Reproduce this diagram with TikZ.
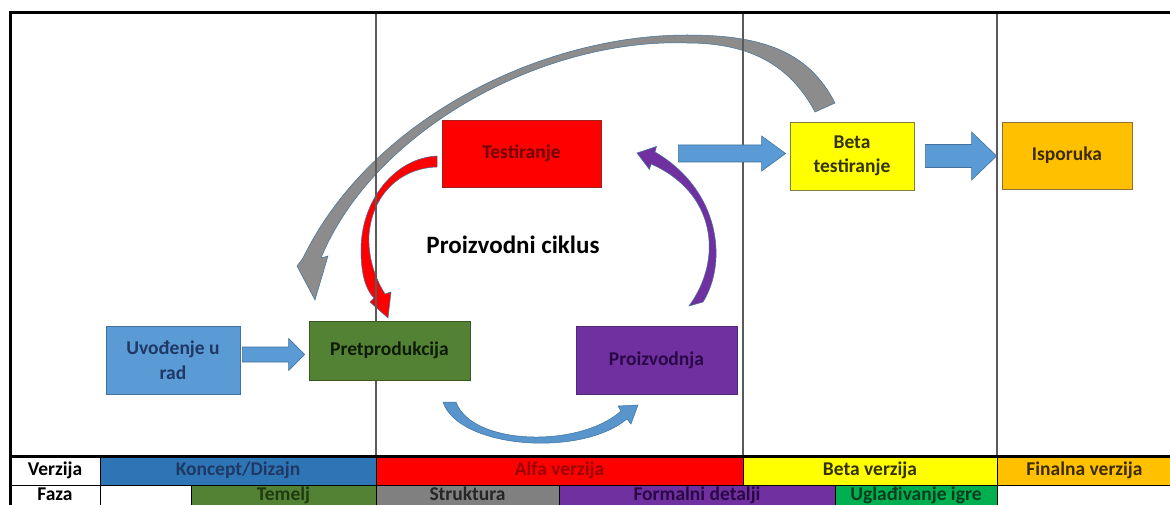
\documentclass[tikz,border=0pt]{standalone}
\usepackage{fontspec}
\setmainfont{Carlito}
\usetikzlibrary{calc}
\definecolor{cUv}{HTML}{5B9BD5}
\definecolor{cUvB}{HTML}{41719C}
\definecolor{cUvT}{HTML}{1F3864}
\definecolor{cPre}{HTML}{548235}
\definecolor{cPreB}{HTML}{385723}
\definecolor{cPreT}{HTML}{0D1A06}
\definecolor{cTest}{HTML}{FF0000}
\definecolor{cTestB}{HTML}{A02020}
\definecolor{cTestT}{HTML}{6E0000}
\definecolor{cPro}{HTML}{7030A0}
\definecolor{cProB}{HTML}{4E2A78}
\definecolor{cProT}{HTML}{2A0845}
\definecolor{cBeta}{HTML}{FFFF00}
\definecolor{cBetaB}{HTML}{7F7F40}
\definecolor{cBetaT}{HTML}{333300}
\definecolor{cIso}{HTML}{FFC000}
\definecolor{cIsoB}{HTML}{8F7030}
\definecolor{cIsoT}{HTML}{3D2B00}
\definecolor{cKon}{HTML}{2E75B6}
\definecolor{cAlfT}{HTML}{9A0000}
\definecolor{cStr}{HTML}{808080}
\definecolor{cUgl}{HTML}{00B050}
\definecolor{cUglT}{HTML}{0A3D1E}
\definecolor{cTemT}{HTML}{1E3A10}
\definecolor{cGrey}{HTML}{8C8C8C}
\definecolor{cLine}{HTML}{5A5A5A}
\definecolor{cArrB}{HTML}{41719C}
\newcommand\blkarrow[5]{%
  \filldraw[blk] let \p1=(#1), \p2=(#2) in
    (\x1,\y1+#3) -- (\x2-#5,\y1+#3) -- (\x2-#5,\y1+#4) -- (\x2,\y1)
    -- (\x2-#5,\y1-#4) -- (\x2-#5,\y1-#3) -- (\x1,\y1-#3) -- cycle;}
\newcommand\tcell[8]{%
  \draw[cellb, fill=#6] (#2,#3) rectangle (#4,#5);
  \node[tlbl, text=#7] (#1) at ($(#2,#3)!0.5!(#4,#5)$) {#8};}
\begin{document}
\begin{tikzpicture}[x=1pt,y=-1pt,
  lbl/.style={font=\fontsize{19.5}{24.5}\selectfont\bfseries, align=center, inner sep=0pt},
  box/.style={lbl, line width=0.8pt},
  blk/.style={fill=cUv, draw=cArrB, line width=0.6pt},
  curv/.style={draw=cArrB, line width=0.5pt},
  cellb/.style={draw=black, line width=0.6pt},
  tlbl/.style={font=\fontsize{19.5}{21}\selectfont\bfseries, inner sep=0pt, text height=12.5pt, text depth=3.5pt},
  vline/.style={draw=cLine, line width=1.3pt},
  frame/.style={draw=black, line width=3pt}]
\useasboundingbox (0,0) rectangle (1170,505);
\fill[white] (0,0) rectangle (1170,505);

% curved arrows
\filldraw[curv, fill=cGrey] (835,103) .. controls (808,50) and (760,35) .. (687,35)
  .. controls (540,35) and (370,120) .. (303,258) -- (297,266) -- (315,300) -- (328,256) -- (321,258)
  .. controls (375,128) and (545,38) .. (687,43)
  .. controls (750,43) and (790,65) .. (815,112) -- cycle;
\filldraw[curv, fill=red]
  (437,156) .. controls (395,158) and (361,200) .. (361,250)
  .. controls (361,275) and (366,290) .. (374,298) -- (370,302) -- (388,318) -- (391,292) -- (385,294)
  .. controls (375,278) and (368,258) .. (369,235)
  .. controls (372,195) and (400,168) .. (437,167) -- cycle;
\filldraw[curv, fill=cPro] (703,302) .. controls (728,262) and (720,190) .. (655,152)
  -- (656.5,146.5) -- (637,153) -- (649.5,169.5) -- (651,164)
  .. controls (715,192) and (724,258) .. (689,306) -- cycle;
\filldraw[curv, fill=cUv!85!cUvB] (443,402) .. controls (458,448) and (580,458) .. (627,419)
  -- (631,424) -- (638,405) -- (618,406) -- (621,411)
  .. controls (580,448) and (472,446) .. (456,402) -- cycle;

% frame and column lines
\draw[vline] (376,13) -- (376,456);
\draw[vline] (743,13) -- (743,456);
\draw[vline] (997,13) -- (997,456);
\draw[frame] (8.5,13) -- (1172,13);
\draw[frame] (10,13) -- (10,507);

% boxes
\node[box, fill=cUv, draw=cUvB, text=cUvT, minimum width=134pt, minimum height=68pt] (uv) at (173,360) {Uvođenje u\\rad};
\node[box, fill=cPre, draw=cPreB, text=cPreT, minimum width=161pt, minimum height=59pt] (pre) at (389.5,350.5) {Pretprodukcija};
\node[box, fill=cTest, draw=cTestB, text=cTestT, minimum width=159pt, minimum height=67pt] (test) at (521.5,153.5) {Testiranje};
\node[box, fill=cPro, draw=cProB, text=cProT, minimum width=161pt, minimum height=68pt] (pro) at (656.5,360) {Proizvodnja};
\node[box, fill=cBeta, draw=cBetaB, text=cBetaT, minimum width=124pt, minimum height=68pt] (beta) at (852,156) {Beta\\testiranje};
\node[box, fill=cIso, draw=cIsoB, text=cIsoT, minimum width=130pt, minimum height=67pt] (iso) at (1067,155.5) {Isporuka};
\node[font=\fontsize{25}{29}\selectfont\bfseries, inner sep=0pt] (title) at (513,245) {Proizvodni ciklus};

% straight block arrows
\coordinate (a1s) at ($(uv.east)+(2,-5.5)$);
\coordinate (a1e) at ($(pre.west)+(-4,0)$);
\blkarrow{a1s}{a1e}{7.5pt}{16pt}{16pt}
\coordinate (a2s) at ($(test.east)+(77,0)$);
\coordinate (a2e) at ($(beta.west)+(-4,0)$);
\blkarrow{a2s}{a2e}{8.5pt}{17.5pt}{24pt}
\coordinate (a3s) at ($(beta.east)+(11,0)$);
\coordinate (a3e) at ($(iso.west)+(-5,0)$);
\blkarrow{a3s}{a3e}{11.5pt}{24pt}{25pt}

% table
\tcell{ver}{10}{457}{100}{485}{white}{black}{Verzija}
\tcell{kon}{100}{457}{376}{485}{cKon}{cUvT}{Koncept/Dizajn}
\tcell{alf}{376}{457}{743}{485}{red}{cAlfT}{Alfa verzija}
\tcell{bet}{743}{457}{997}{485}{cBeta}{cBetaT}{Beta verzija}
\tcell{fin}{997}{457}{1172}{485}{cIso}{cIsoT}{Finalna verzija}
\tcell{faz}{10}{485}{100}{507}{white}{black}{Faza}
\tcell{bl1}{100}{485}{191}{507}{white}{black}{}
\tcell{tem}{191}{485}{376}{507}{cPre}{cTemT}{Temelj}
\tcell{str}{376}{485}{559}{507}{cStr}{black!85}{Struktura}
\tcell{frm}{559}{485}{835}{507}{cPro}{cProT}{Formalni detalji}
\tcell{ugl}{835}{485}{997}{507}{cUgl}{cUglT}{Uglađivanje igre}
\tcell{bl2}{997}{485}{1172}{507}{white}{black}{}
\draw[frame] (8.5,456) -- (1172,456);
\draw[frame] (10,13) -- (10,507);
\end{tikzpicture}
\end{document}
